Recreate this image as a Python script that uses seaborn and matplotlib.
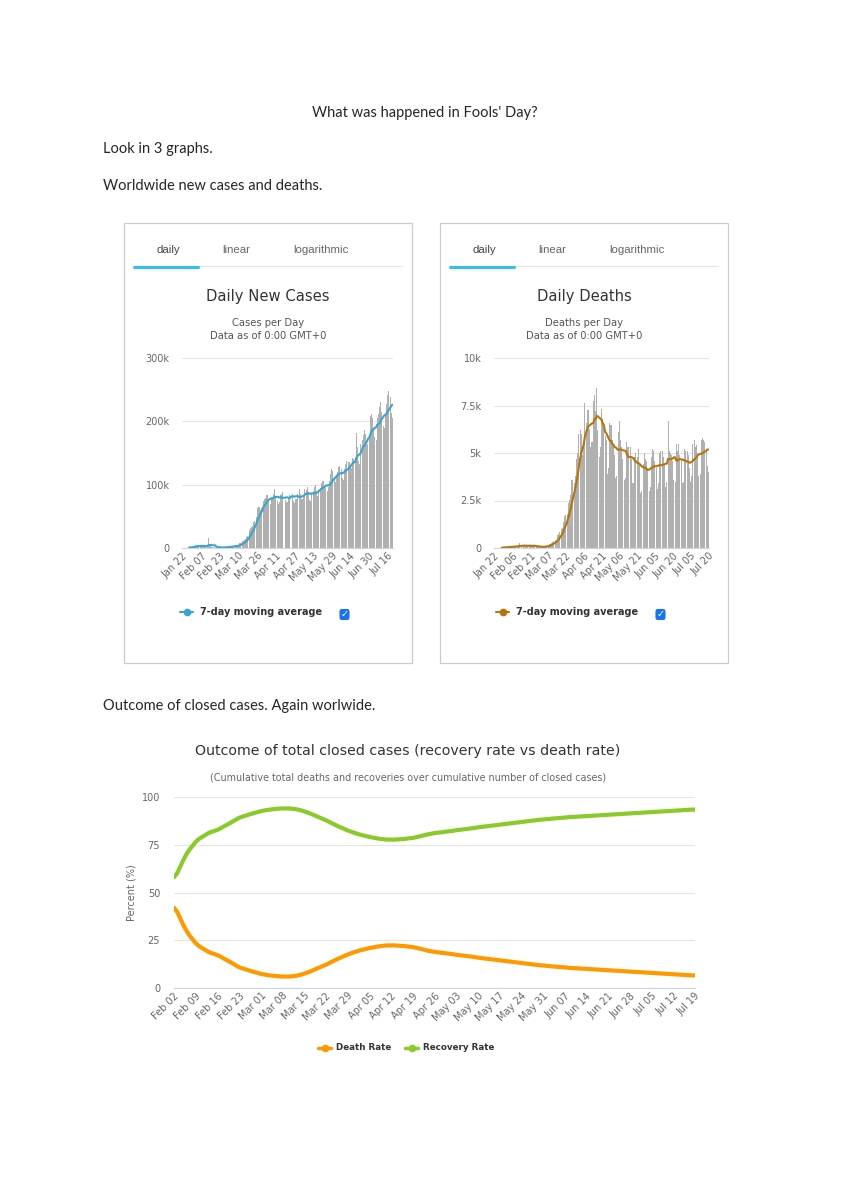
import numpy as np
import pandas as pd
import matplotlib
matplotlib.use("Agg")
import matplotlib.pyplot as plt
import seaborn as sns
from matplotlib.lines import Line2D
from matplotlib.patches import Rectangle, FancyBboxPatch

# daily new cases, thousands, Jan 22 .. Jul 20
cases = [
    0.1, 0.1, 0.3, 0.5, 0.7, 0.8, 2.7, 0.6, 2.1, 1.7,
    2.1, 4.7, 3.1, 4.0, 3.7, 3.2, 3.4, 2.6, 3.0, 2.5, 2.1, 2.0, 15.2, 5.1, 2.6, 2.1, 1.9, 1.8, 0.4, 0.6,
    1.0, 1.0, 0.6, 0.9, 0.9, 1.0, 1.3, 1.4, 1.8,
    1.9, 1.9, 2.4, 2.3, 2.7, 3.8, 4.0, 3.9, 4.0, 4.6, 7.4, 7.6, 10.5, 10.9, 12.3, 14.6, 17.1, 18.9, 28.5, 31.8,
    32.9, 34.3, 40.6, 42.4, 49.2, 62.5, 64.3, 64.4, 59.7, 62.8, 75.0,
    77.5, 79.0, 83.0, 84.0, 74.0, 69.0, 80.0, 81.0, 86.0, 93.0, 81.0, 75.0, 70.0, 72.0, 83.0, 86.0, 88.0, 81.0,
    76.0, 73.0, 73.0, 77.0, 84.0, 103.0, 86.0, 74.0, 71.0, 77.0, 77.0, 85.0,
    93, 86, 78, 78, 80, 93, 91, 97, 88, 76, 74, 85, 90, 97, 99, 90, 82, 89, 94, 102,
    106, 106, 98, 95, 90, 96, 106, 117, 124, 121, 109,
    104, 112, 120, 128, 129, 125, 110, 107, 124, 133, 138, 136, 136, 128, 126, 142, 141, 141, 181, 160,
    138, 132, 165, 171, 178, 186, 180, 162, 164, 175,
    208, 211, 205, 190, 175, 170, 205, 212, 222, 230, 215, 192, 190, 210, 228, 242, 248, 238, 213, 205,
]

# daily deaths, thousands, Jan 22 .. Jul 20
deaths = [
    0.0, 0.008, 0.016, 0.015, 0.024, 0.026, 0.026, 0.038, 0.043, 0.046,
    0.045, 0.057, 0.064, 0.066, 0.073, 0.073, 0.086, 0.089, 0.097, 0.108, 0.097, 0.254, 0.013, 0.143, 0.142,
    0.106, 0.098, 0.139, 0.115, 0.125, 0.117, 0.109, 0.097, 0.150, 0.071, 0.064, 0.037, 0.058, 0.067,
    0.073, 0.066, 0.071, 0.094, 0.099, 0.104, 0.103, 0.228, 0.202, 0.272, 0.328, 0.353, 0.447, 0.397, 0.684,
    0.749, 0.834, 0.989, 1.070, 1.387, 1.676, 1.731, 1.812, 2.393, 2.512, 2.812, 3.553, 3.598, 3.417, 3.803, 4.694,
    5.025, 5.990, 6.203, 5.981, 4.905, 5.307, 7.615, 6.560, 7.245, 7.286, 6.250, 5.300, 5.600, 7.750, 8.050,
    7.230, 8.400, 6.200, 4.800, 5.300, 7.300, 6.800, 6.500, 5.900, 5.700, 3.900, 4.200, 6.600, 6.500, 5.700,
    5.4, 4.9, 3.7, 3.8, 6.1, 6.7, 5.7, 5.3, 4.7, 3.6, 3.7, 5.6, 5.3, 5.3, 5.3, 4.7, 3.4, 3.4, 4.8, 5.0,
    4.8, 5.2, 4.4, 2.9, 3.0, 4.4, 5.0, 4.7, 4.6, 4.2, 3.0,
    3.2, 4.8, 5.2, 5.1, 4.6, 4.2, 3.1, 3.4, 5.0, 5.1, 5.1, 4.8, 4.4, 3.2, 3.5, 6.7, 5.1, 5.0, 4.9, 4.6,
    3.6, 3.5, 5.5, 5.1, 5.5, 4.9, 4.6, 3.4, 3.5, 5.2,
    5.1, 5.1, 4.9, 4.2, 3.5, 3.8, 5.5, 5.7, 5.3, 5.4, 5.0, 3.8, 3.9, 5.7, 5.8, 5.7, 5.6, 5.2, 4.3, 4.0,
]

# death rate of closed cases (%), Feb 02 .. Jul 19
death_rate = [
    42, 40, 36.5, 33, 30, 27.5, 25.5, 23.5, 22, 21, 20, 19, 18.3, 17.8, 17.2, 16.4, 15.5, 14.6, 13.7, 12.8,
    11.8, 10.9, 10.3, 9.8, 9.3, 8.8, 8.3, 7.9,
    7.4, 7.1, 6.8, 6.6, 6.4, 6.2, 6.1, 6.0, 6.0, 6.0, 6.1, 6.3, 6.6, 7.0, 7.5, 8.1, 8.7, 9.4, 10.1, 10.8,
    11.5, 12.2, 13.0, 13.8, 14.6, 15.4, 16.1, 16.8, 17.5, 18.1, 18.7,
    19.2, 19.7, 20.1, 20.5, 20.9, 21.2, 21.5, 21.8, 22.0, 22.2, 22.3, 22.3, 22.3, 22.2, 22.1, 22.0, 21.8,
    21.6, 21.4, 21.1, 20.7, 20.3, 19.9, 19.5, 19.2, 18.9, 18.7, 18.5, 18.3, 18.1,
    17.9, 17.7, 17.4, 17.2, 17.0, 16.8, 16.6, 16.4, 16.2, 15.9, 15.7, 15.5, 15.3, 15.1, 14.9, 14.7, 14.5,
    14.3, 14.1, 13.9, 13.7, 13.5, 13.3, 13.1, 12.9, 12.7, 12.5, 12.3, 12.1, 11.9, 11.8,
    11.6, 11.5, 11.3, 11.2, 11.0, 10.9, 10.8, 10.6, 10.5, 10.4, 10.3, 10.2, 10.1, 10.0, 9.9, 9.8, 9.7,
    9.6, 9.5, 9.4, 9.3, 9.2, 9.1, 9.0, 8.9, 8.8, 8.7, 8.6, 8.5, 8.4,
    8.3, 8.2, 8.1, 8.0, 7.9, 7.8, 7.7, 7.6, 7.5, 7.4, 7.3, 7.2, 7.1, 7.0, 6.9, 6.8, 6.7, 6.6, 6.6,
]

cases_ticks = ["Jan 22", "Feb 07", "Feb 23", "Mar 10", "Mar 26", "Apr 11", "Apr 27",
               "May 13", "May 29", "Jun 14", "Jun 30", "Jul 16"]
deaths_ticks = ["Jan 22", "Feb 06", "Feb 21", "Mar 07", "Mar 22", "Apr 06", "Apr 21",
                "May 06", "May 21", "Jun 05", "Jun 20", "Jul 05", "Jul 20"]
outcome_ticks = ["Feb 02", "Feb 09", "Feb 16", "Feb 23", "Mar 01", "Mar 08", "Mar 15", "Mar 22",
                 "Mar 29", "Apr 05", "Apr 12", "Apr 19", "Apr 26", "May 03", "May 10", "May 17",
                 "May 24", "May 31", "Jun 07", "Jun 14", "Jun 21", "Jun 28", "Jul 05", "Jul 12", "Jul 19"]

daily = pd.DataFrame({"day": np.arange(len(cases)), "cases": cases, "deaths": deaths})
daily["cases_ma"] = daily["cases"].rolling(7).mean()
daily["deaths_ma"] = daily["deaths"].rolling(7).mean()

outcome = pd.DataFrame({"day": np.arange(len(death_rate)), "death": death_rate})
outcome["recovery"] = 100 - outcome["death"]

sns.set_theme(style="white")
plt.rcParams["font.family"] = ["DejaVu Sans"]

W, H = 850, 1202
fig = plt.figure(figsize=(W / 100, H / 100), dpi=100)
fig.patch.set_facecolor("white")


def ax_at(l, t, r, b):
    return fig.add_axes([l / W, 1 - b / H, (r - l) / W, (b - t) / H])


def txt(x, y, s, **kw):
    kw.setdefault("va", "center")
    fig.text(x / W, 1 - y / H, s, **kw)


def hline(x0, x1, y, color, lw):
    fig.add_artist(Line2D([x0 / W, x1 / W], [1 - y / H, 1 - y / H], color=color, lw=lw,
                          transform=fig.transFigure))


def legend_mark(x, y, color, lw):
    hline(x, x + 13, y, color, lw)
    fig.add_artist(Line2D([(x + 6.5) / W], [1 - y / H], color=color, marker="o",
                          markersize=4.5, lw=0, transform=fig.transFigure))


def style(ax):
    for s in ["top", "right", "left"]:
        ax.spines[s].set_visible(False)
    ax.spines["bottom"].set_color("#ccd6eb")
    ax.spines["bottom"].set_linewidth(0.8)
    ax.grid(axis="y", color="#e6e6e6", lw=0.8)
    ax.grid(axis="x", visible=False)
    ax.set_axisbelow(True)
    ax.tick_params(length=0, labelsize=7, labelcolor="#666666")
    ax.tick_params(axis="y", pad=9)
    ax.tick_params(axis="x", pad=2)
    ax.set_xlabel("")
    ax.set_ylabel("")


doc_font = ["Lato", "DejaVu Sans"]
txt(425, 113, "What was happened in Fools' Day?", ha="center", fontsize=10.5, family=doc_font)
txt(103, 149, "Look in 3 graphs.", ha="left", fontsize=10.5, family=doc_font)
txt(103, 186, "Worldwide new cases and deaths.", ha="left", fontsize=10.5, family=doc_font)
txt(103, 706, "Outcome of closed cases. Again worlwide.", ha="left", fontsize=10.5, family=doc_font)

panels = [
    dict(x0=124, col="cases", ma="cases_ma", color="#3ba3cf", title="Daily New Cases",
         sub="Cases per Day", ax=(182, 358, 393, 548), ymax=300,
         yt=[0, 100, 200, 300], ytl=["0", "100k", "200k", "300k"], step=16, xtl=cases_ticks),
    dict(x0=440, col="deaths", ma="deaths_ma", color="#b8730d", title="Daily Deaths",
         sub="Deaths per Day", ax=(494, 358, 709, 548), ymax=10,
         yt=[0, 2.5, 5, 7.5, 10], ytl=["0", "2.5k", "5k", "7.5k", "10k"], step=15, xtl=deaths_ticks),
]

tab_font = ["Liberation Sans", "DejaVu Sans"]
for p in panels:
    x0 = p["x0"]
    fig.add_artist(Rectangle((x0 / W, 1 - 663 / H), 288 / W, 440 / H, transform=fig.transFigure,
                             facecolor="none", edgecolor="#cccccc", lw=0.9))
    txt(x0 + 44, 250, "daily", ha="center", fontsize=8.2, color="#444444", family=tab_font)
    txt(x0 + 112, 250, "linear", ha="center", fontsize=8.2, color="#666666", family=tab_font)
    txt(x0 + 197, 250, "logarithmic", ha="center", fontsize=8.2, color="#666666", family=tab_font)
    hline(x0 + 10, x0 + 278, 266, "#e6e6e6", 0.8)
    hline(x0 + 10, x0 + 74, 267, "#2ec2f0", 2.2)
    cx = x0 + 144
    txt(cx, 296, p["title"], ha="center", fontsize=10.6, color="#333333")
    txt(cx, 323, p["sub"], ha="center", fontsize=7.2, color="#555555")
    txt(cx, 336, "Data as of 0:00 GMT+0", ha="center", fontsize=7.2, color="#555555")

    ax = ax_at(*p["ax"])
    sns.barplot(data=daily, x="day", y=p["col"], native_scale=True, color="#b0b0b0",
                width=0.85, saturation=1, linewidth=0, edgecolor="none", ax=ax)
    ma = daily.dropna(subset=[p["ma"]])
    sns.lineplot(data=ma, x="day", y=p["ma"], color=p["color"], lw=1.5, ax=ax)
    ax.set_xlim(-0.5, len(daily) - 0.5)
    ax.set_ylim(0, p["ymax"])
    ax.set_yticks(p["yt"])
    ax.set_yticklabels(p["ytl"])
    ax.set_xticks(np.arange(len(p["xtl"])) * p["step"])
    ax.set_xticklabels(p["xtl"], rotation=45, ha="right", rotation_mode="anchor")
    style(ax)

    # legend row
    legend_mark(x0 + 56, 612, p["color"], 1.5)
    txt(x0 + 76, 612, "7-day moving average", ha="left", fontsize=7.0, fontweight="bold",
        color="#333333")
    fig.add_artist(FancyBboxPatch(((x0 + 216) / W, 1 - 619.5 / H), 9 / W, 10 / H,
                                  boxstyle="round,pad=0,rounding_size=0.002",
                                  transform=fig.transFigure, facecolor="#1a73e8",
                                  edgecolor="#1a73e8", lw=0.8))
    txt(x0 + 220.5, 614.5, "\u2713", ha="center", fontsize=7, color="white", fontweight="bold")

# outcome chart
txt(408, 751, "Outcome of total closed cases (recovery rate vs death rate)", ha="center",
    fontsize=10.2, color="#333333")
txt(408, 777, "(Cumulative total deaths and recoveries over cumulative number of closed cases)",
    ha="center", fontsize=6.9, color="#666666")

ax3 = ax_at(174, 797, 695, 988)
long = outcome.melt(id_vars="day", value_vars=["death", "recovery"], var_name="series",
                    value_name="pct")
sns.lineplot(data=long, x="day", y="pct", hue="series", palette={"death": "#ff9900",
             "recovery": "#8acb2b"}, lw=3, legend=False, ax=ax3)
for line in ax3.lines:
    line.set_solid_capstyle("round")
ax3.set_xlim(0, len(outcome) - 1)
ax3.set_ylim(0, 100)
ax3.set_yticks([0, 25, 50, 75, 100])
ax3.set_xticks(np.arange(len(outcome_ticks)) * 7)
ax3.set_xticklabels(outcome_ticks, rotation=45, ha="right", rotation_mode="anchor")
style(ax3)
ax3.tick_params(axis="y", pad=10)
txt(131, 893, "Percent (%)", ha="center", rotation=90, fontsize=7, color="#666666")

for x, label, color in [(318, "Death Rate", "#ff9900"), (405, "Recovery Rate", "#8acb2b")]:
    legend_mark(x, 1048, color, 2.5)
    txt(x + 18, 1048, label, ha="left", fontsize=6.3, fontweight="bold", color="#333333")

fig.savefig("out.png", dpi=100)
